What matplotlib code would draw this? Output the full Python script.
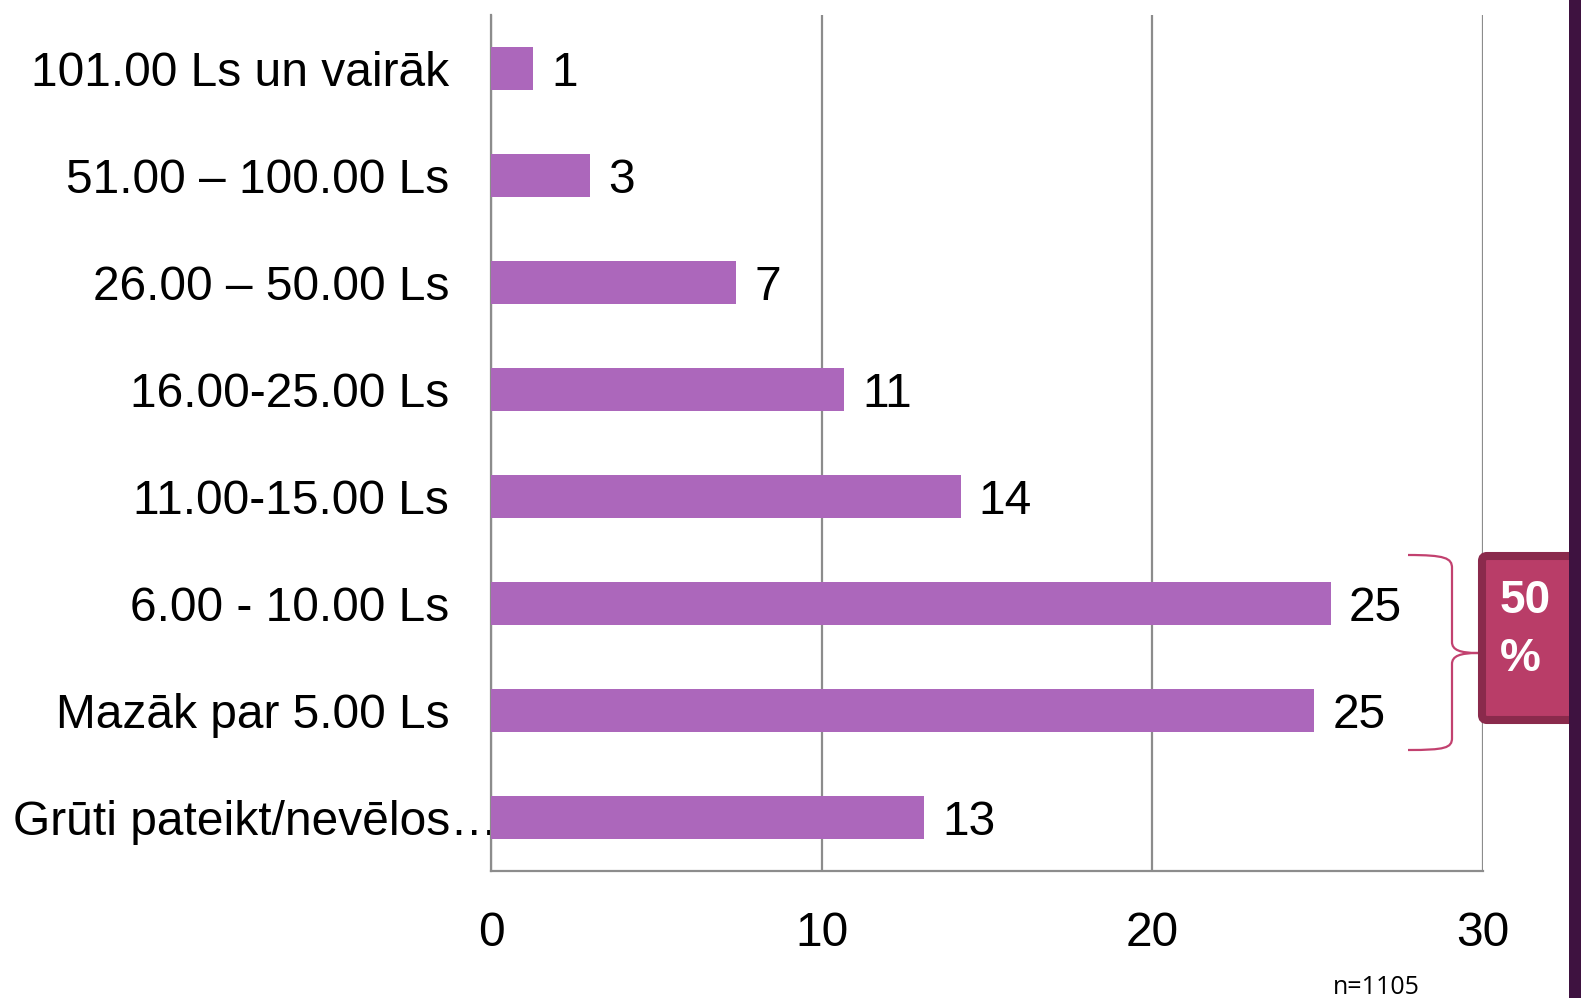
import matplotlib.pyplot as plt
from matplotlib.path import Path
from matplotlib.patches import PathPatch, FancyBboxPatch, Rectangle
from matplotlib.transforms import IdentityTransform

# data (top to bottom)
categories = ['101.00 Ls un vairāk', '51.00 – 100.00 Ls', '26.00 – 50.00 Ls',
              '16.00-25.00 Ls', '11.00-15.00 Ls', '6.00 - 10.00 Ls',
              'Mazāk par 5.00 Ls', 'Grūti pateikt/nevēlos…']
values = [1.27, 2.99, 7.41, 10.67, 14.2, 25.4, 24.9, 13.1]
value_labels = ['1', '3', '7', '11', '14', '25', '25', '13']
x_ticks = [0, 10, 20, 30]

W, H = 1581, 998
plt.rcParams['font.family'] = ['Liberation Sans', 'DejaVu Sans']

fig = plt.figure(figsize=(W / 100, H / 100), dpi=100)
ax = fig.add_axes([491 / W, 1 - 871 / H, 992 / W, 856 / H])

ypos = list(range(len(categories)))
ax.barh(ypos, values, height=0.4, color='#AC67BB', zorder=3)
for y, v, lab in zip(ypos, values, value_labels):
    ax.annotate(lab, (v, y), xytext=(13, -3.5), textcoords='offset points',
                va='center', ha='left', fontsize=34.5, color='black')

ax.set_xlim(0, 30)
ax.set_ylim(len(categories) - 0.5, -0.5)
ax.set_xticks(x_ticks)
ax.set_yticks(ypos)
ax.set_yticklabels(categories)
ax.tick_params(axis='y', length=0, pad=30, labelsize=34.5)
ax.tick_params(axis='x', length=0, pad=28.5, labelsize=34.5)
ax.grid(axis='x', color='#8C8C8C', linewidth=1.6, zorder=1)
for s in ['top', 'right']:
    ax.spines[s].set_visible(False)
for s in ['left', 'bottom']:
    ax.spines[s].set_color('#8C8C8C')
    ax.spines[s].set_linewidth(1.6)

# last label is longer and runs up to the axis
lbl = ax.get_yticklabels()[-1]
lbl.set_horizontalalignment('left')
lbl.set_x((13 - 491 + 42) / 992)

# helper: picture pixels (top-left origin) to display coords
def px(x, y):
    return (x, H - y)

# curly bracket
verts = [px(1408, 555), px(1445, 555), px(1452, 558), px(1452, 568),
         px(1452, 642),
         px(1452, 650), px(1460, 653), px(1478, 653),
         px(1460, 653), px(1452, 656), px(1452, 664),
         px(1452, 738),
         px(1452, 748), px(1445, 750), px(1408, 750)]
codes = [Path.MOVETO, Path.CURVE4, Path.CURVE4, Path.CURVE4,
         Path.LINETO,
         Path.CURVE4, Path.CURVE4, Path.CURVE4,
         Path.CURVE4, Path.CURVE4, Path.CURVE4,
         Path.LINETO,
         Path.CURVE4, Path.CURVE4, Path.CURVE4]
fig.add_artist(PathPatch(Path(verts, codes), facecolor='none', edgecolor='#C2416F',
                         linewidth=1.6, transform=IdentityTransform()))

# 50 % box
bx, by = px(1482, 720)
fig.add_artist(FancyBboxPatch((bx, by), 140, 164, boxstyle='round,pad=0,rounding_size=5',
                              facecolor='#B93D68', edgecolor='#8A2A4C', linewidth=5.8,
                              transform=IdentityTransform()))
fig.text(1500 / W, 1 - 601 / H, '50', color='white', fontsize=33, fontweight='bold',
         ha='left', va='center')
fig.text(1500 / W, 1 - 659 / H, '%', color='white', fontsize=33, fontweight='bold',
         ha='left', va='center')

# dark strip at the right edge
fig.add_artist(Rectangle(px(1569, 998), 20, 998, facecolor='#3E1240', edgecolor='none',
                         transform=IdentityTransform()))

fig.text(1333 / W, 1 - 988 / H, 'n=1105', fontsize=18, family='Open Sans',
         ha='left', va='center')

fig.savefig('out.png', dpi=100)
